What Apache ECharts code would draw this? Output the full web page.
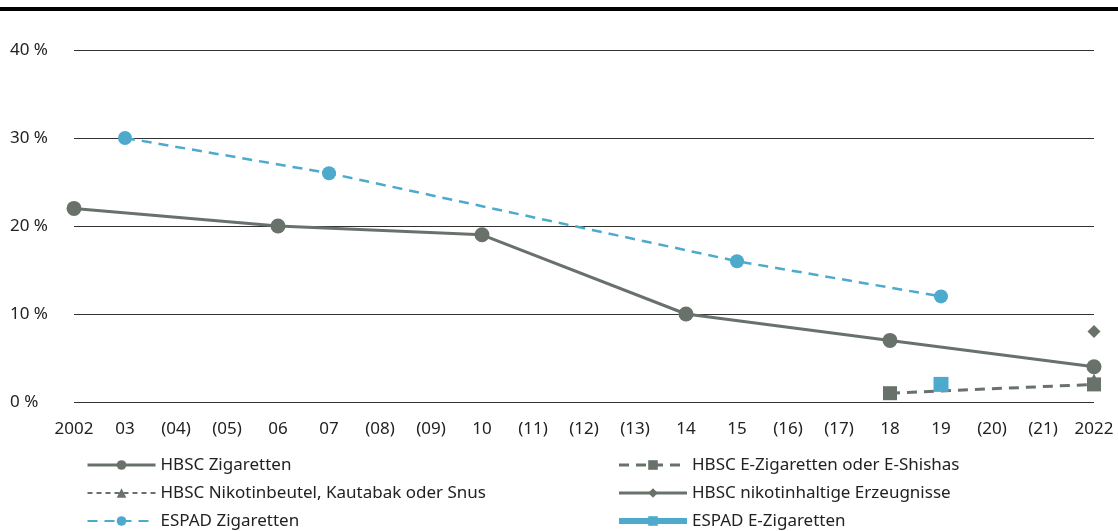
<!DOCTYPE html>
<html>
<head>
<meta charset="utf-8">
<script src="https://cdn.jsdelivr.net/npm/echarts@6/dist/echarts.min.js"></script>
<style>
  html, body { margin: 0; padding: 0; background: #fff; }
  #chart { width: 1118px; height: 531px; }
</style>
</head>
<body>
<div id="chart"></div>
<script>
const years = ['2002', '03', '(04)', '(05)', '06', '07', '(08)', '(09)', '10', '(11)', '(12)',
  '(13)', '14', '15', '(16)', '(17)', '18', '19', '(20)', '(21)', '2022']

// values in %, null = no survey that year
const hbscZigaretten = [22, null, null, null, 20, null, null, null, 19, null, null, null, 10, null, null, null, 7, null, null, null, 4]
const hbscEZigaretten = [null, null, null, null, null, null, null, null, null, null, null, null, null, null, null, null, 1, null, null, null, 2]
const hbscNikotinbeutel = [null, null, null, null, null, null, null, null, null, null, null, null, null, null, null, null, null, null, null, null, 2.5]
const hbscNikotinhaltig = [null, null, null, null, null, null, null, null, null, null, null, null, null, null, null, null, null, null, null, null, 8]
const espadZigaretten = [null, 30, null, null, null, 26, null, null, null, null, null, null, null, 16, null, null, null, 12, null, null, null]
const espadEZigaretten = [null, null, null, null, null, null, null, null, null, null, null, null, null, null, null, null, null, 2, null, null, null]

const gray = '#68726b'
const blue = '#4eaacd'
const font = 'Noto Sans'

const chart = echarts.init(document.getElementById('chart'))

const legendText = { fontSize: 17, lineHeight: 20, color: '#222', fontFamily: font }

const option = {
  animation: false,
  textStyle: { fontFamily: font },
  graphic: [
    {
      type: 'rect',
      shape: { x: 0, y: 7, width: 1118, height: 4 },
      style: { fill: '#000' }
    }
  ],
  grid: {
    left: 74,
    right: 24,
    top: 50,
    height: 352
  },
  legend: [
    {
      orient: 'vertical',
      left: 81,
      top: 450,
      height: 100,
      itemWidth: 68,
      itemHeight: 12,
      itemGap: 8,
      textStyle: legendText,
      data: [
        { name: 'HBSC Zigaretten', lineStyle: { width: 3 } },
        { name: 'HBSC Nikotinbeutel, Kautabak oder Snus' },
        { name: 'ESPAD Zigaretten' }
      ]
    },
    {
      orient: 'vertical',
      left: 611,
      top: 450,
      height: 100,
      itemWidth: 68,
      itemHeight: 12,
      itemGap: 8,
      textStyle: legendText,
      data: [
        { name: 'HBSC E-Zigaretten oder E-Shishas', lineStyle: { width: 3 } },
        { name: 'HBSC nikotinhaltige Erzeugnisse', lineStyle: { width: 3 } },
        { name: 'ESPAD E-Zigaretten', lineStyle: { width: 6 } }
      ]
    }
  ],
  xAxis: {
    type: 'category',
    data: years,
    boundaryGap: false,
    axisLine: { show: false },
    axisTick: { show: false },
    axisLabel: {
      interval: 0,
      margin: 19,
      fontSize: 17,
      color: '#222',
      fontFamily: font
    }
  },
  yAxis: {
    type: 'value',
    min: 0,
    max: 40,
    interval: 10,
    axisLine: { show: false },
    axisTick: { show: false },
    splitLine: { lineStyle: { color: '#333', width: 1 } },
    axisLabel: {
      formatter: '{value} %',
      align: 'left',
      margin: 64,
      fontSize: 17,
      color: '#222',
      fontFamily: font
    }
  },
  series: [
    {
      name: 'HBSC Zigaretten',
      type: 'line',
      data: hbscZigaretten,
      connectNulls: true,
      symbol: 'circle',
      symbolSize: 15,
      itemStyle: { color: gray },
      lineStyle: { color: gray, width: 3 }
    },
    {
      name: 'ESPAD Zigaretten',
      type: 'line',
      data: espadZigaretten,
      connectNulls: true,
      symbol: 'circle',
      symbolSize: 14,
      itemStyle: { color: blue },
      lineStyle: { color: blue, width: 2.5, type: [10, 7] }
    },
    {
      name: 'HBSC E-Zigaretten oder E-Shishas',
      type: 'line',
      data: hbscEZigaretten,
      connectNulls: true,
      symbol: 'rect',
      symbolSize: 14,
      itemStyle: { color: gray },
      lineStyle: { color: gray, width: 3, type: [10, 7] }
    },
    {
      name: 'ESPAD E-Zigaretten',
      type: 'line',
      z: 4,
      data: espadEZigaretten,
      symbol: 'rect',
      symbolSize: 15,
      itemStyle: { color: blue },
      lineStyle: { color: blue, width: 6 }
    },
    {
      name: 'HBSC Nikotinbeutel, Kautabak oder Snus',
      type: 'line',
      z: 5,
      data: hbscNikotinbeutel,
      symbol: 'triangle',
      symbolSize: 13,
      itemStyle: { color: gray },
      lineStyle: { color: gray, width: 2, type: [5, 4] }
    },
    {
      name: 'HBSC nikotinhaltige Erzeugnisse',
      type: 'line',
      data: hbscNikotinhaltig,
      symbol: 'diamond',
      symbolSize: 13,
      itemStyle: { color: gray },
      lineStyle: { color: gray, width: 3 }
    }
  ]
}

chart.setOption(option)
</script>
</body>
</html>
